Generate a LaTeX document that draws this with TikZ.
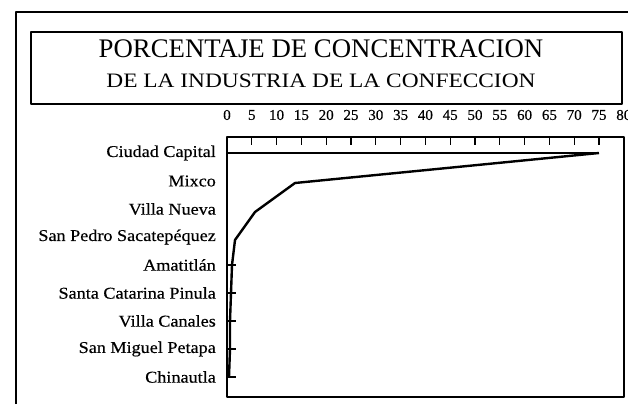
\documentclass[tikz,border=0pt]{standalone}
\usepackage{fontspec}
\setmainfont{Liberation Serif}
\newfontfamily\labfont[FakeStretch=1.1,FakeBold=0.4]{Liberation Serif}
\newfontfamily\numfont[FakeBold=0.4]{Liberation Serif}
\newfontfamily\subfont[FakeStretch=1.14]{Liberation Serif}
\begin{document}
\begin{tikzpicture}[x=1pt,y=-1pt,line join=round,
  rowlabel/.style={anchor=east,inner sep=0pt,font=\labfont\fontsize{16.5}{18}\selectfont},
  numlabel/.style={inner sep=0pt,font=\numfont\fontsize{15}{16}\selectfont},
  curve/.style={line width=2.4pt}]
\useasboundingbox (0,0) rectangle (628,404);
% outer frame
\draw[line width=2pt] (16,404) -- (16,12) -- (628,12);
% title box
\draw[line width=1.5pt] (31,32) rectangle (622,104);
\node[inner sep=0pt] (t1) at (321,49) {\fontsize{26.8}{30}\selectfont PORCENTAJE DE CONCENTRACION};
\node[inner sep=0pt] (t2) at (321,81) {\subfont\fontsize{20.5}{23}\selectfont DE LA INDUSTRIA DE LA CONFECCION};
% axis numbers
\foreach \v in {0,5,...,80} \node[numlabel] (n\v) at ({227+\v*4.96},115) {\v};
% chart box
\draw[line width=1.3pt] (227,137) rectangle (624,397);
\foreach \v in {5,10,...,75} \draw[line width=1.2pt] ({227+\v*4.96},137) -- ++(0,8);
% row labels
\foreach \i/\t in {0/Ciudad Capital,1/Mixco,2/Villa Nueva,3/San Pedro Sacatepéquez,4/Amatitlán,5/Santa Catarina Pinula,6/Villa Canales,7/San Miguel Petapa,8/Chinautla}
  \node[rowlabel] (r\i) at (216,{153+\i*28}) {\t};
% left axis ticks
\foreach \i in {4,...,8} \draw[line width=1.2pt] (227,{153+\i*28}) -- ++(9,0);
% top line
\draw[line width=2.2pt] (227,153) -- (599,153);
% curve
\draw[curve] (229,377) -- (230,349) -- (230,321) -- (231,293) -- (232,265) -- (235,240) -- (255,212) -- (295,183) -- (599,153);
\end{tikzpicture}
\end{document}
